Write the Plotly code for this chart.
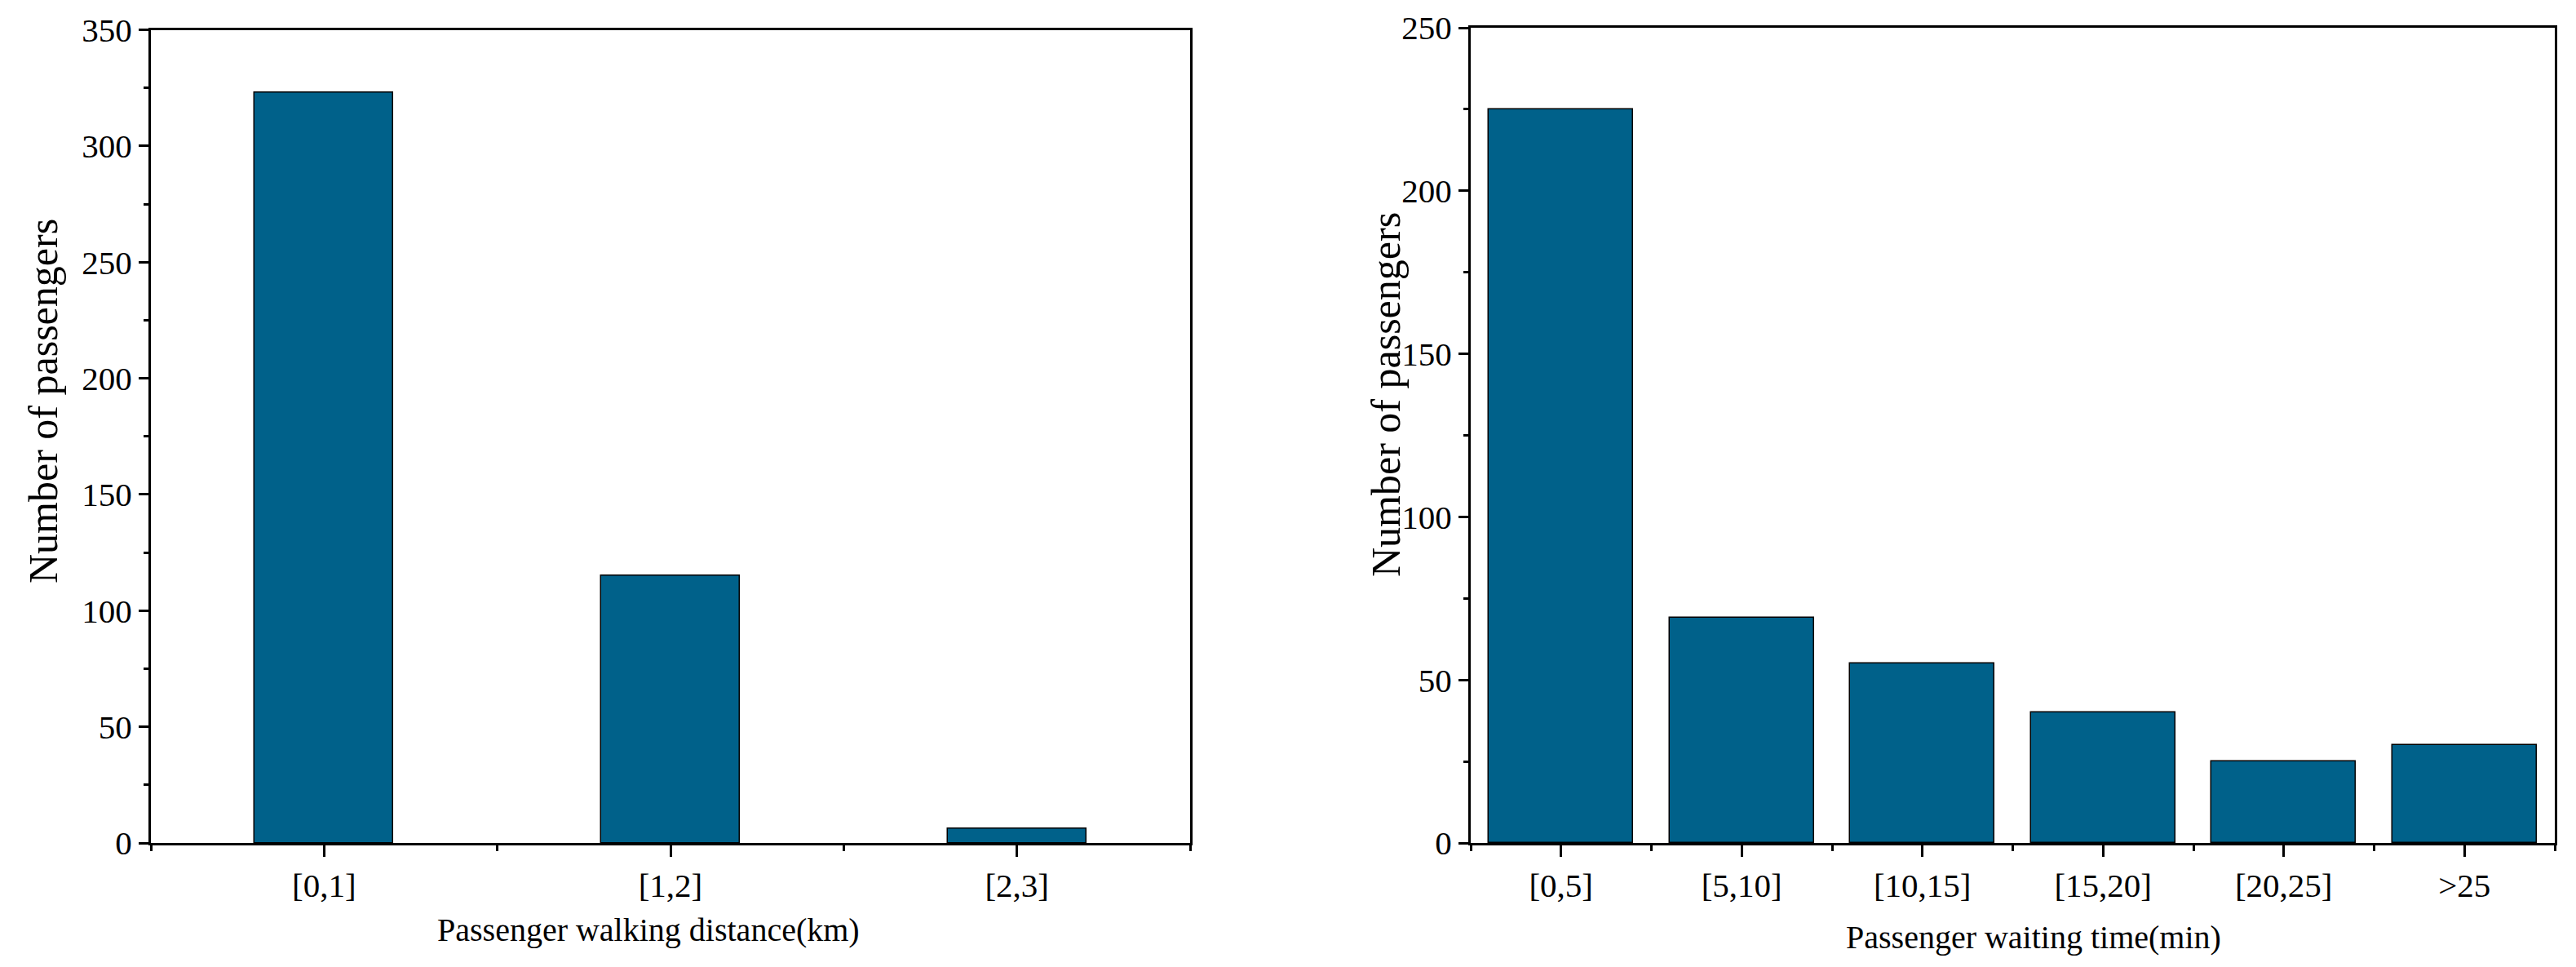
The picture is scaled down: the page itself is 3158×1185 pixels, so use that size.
import plotly.graph_objects as go

# Data
walk_categories = ["[0,1]", "[1,2]", "[2,3]"]
walk_values = [323, 115, 6]
wait_categories = ["[0,5]", "[5,10]", "[10,15]", "[15,20]", "[20,25]", ">25"]
wait_values = [225, 69, 55, 40, 25, 30]

BAR_COLOR = "#00618A"
FONT = "Liberation Serif"
W, H = 3158, 1185
TICK_SIZE = 41
XTITLE_SIZE = 40
YTITLE_SIZE = 50

walk_x = list(range(len(walk_categories)))
wait_x = list(range(len(wait_categories)))

fig = go.Figure()
fig.add_trace(go.Bar(x=walk_x, y=walk_values, width=0.4, xaxis="x", yaxis="y",
                     marker=dict(color=BAR_COLOR, line=dict(color="black", width=1.5)),
                     showlegend=False))
fig.add_trace(go.Bar(x=wait_x, y=wait_values, width=0.8, xaxis="x2", yaxis="y2",
                     marker=dict(color=BAR_COLOR, line=dict(color="black", width=1.5)),
                     showlegend=False))

def yd(top_px, bot_px):
    return [1 - bot_px / H, 1 - top_px / H]

common_axis = dict(showline=True, linecolor="black", linewidth=3, mirror=True,
                   showgrid=False, zeroline=False, ticks="outside",
                   tickcolor="black", tickwidth=3, automargin=False,
                   tickfont=dict(family=FONT, size=TICK_SIZE, color="black"))

fig.update_layout(
    width=W, height=H,
    margin=dict(l=0, r=0, t=0, b=0),
    paper_bgcolor="white", plot_bgcolor="white",
    font=dict(family=FONT, size=TICK_SIZE, color="black"),
    bargap=0,
    xaxis=dict(domain=[185 / W, 1459 / W], anchor="y",
               range=[-0.5, len(walk_categories) - 0.5],
               tickmode="array", tickvals=walk_x, ticktext=walk_categories,
               ticklen=14,
               minor=dict(ticks="outside", tick0=0.5, dtick=1, ticklen=7,
                          tickwidth=3, tickcolor="black", showgrid=False),
               **common_axis),
    yaxis=dict(domain=yd(36.5, 1033), anchor="x",
               range=[0, 350], tickmode="linear", tick0=0, dtick=50, ticklen=12,
               minor=dict(ticks="outside", tick0=0, dtick=25, ticklen=6,
                          tickwidth=3, tickcolor="black", showgrid=False),
               **common_axis),
    xaxis2=dict(domain=[1803 / W, 3132 / W], anchor="y2",
                range=[-0.5, len(wait_categories) - 0.5],
                tickmode="array", tickvals=wait_x, ticktext=wait_categories,
                ticklen=14,
                minor=dict(ticks="outside", tick0=0.5, dtick=1, ticklen=7,
                           tickwidth=3, tickcolor="black", showgrid=False),
                **common_axis),
    yaxis2=dict(domain=yd(34, 1033), anchor="x2",
                range=[0, 250], tickmode="linear", tick0=0, dtick=50, ticklen=12,
                minor=dict(ticks="outside", tick0=0, dtick=25, ticklen=6,
                           tickwidth=3, tickcolor="black", showgrid=False),
                **common_axis),
)

titles = [
    ("Passenger walking distance(km)", 795, 1139, 0, XTITLE_SIZE),
    ("Passenger waiting time(min)", 2493, 1148, 0, XTITLE_SIZE),
    ("Number of passengers", 53, 492, -90, YTITLE_SIZE),
    ("Number of passengers", 1699, 484, -90, YTITLE_SIZE),
]
for text, px, py, ang, size in titles:
    fig.add_annotation(text=text, xref="paper", yref="paper",
                       x=px / W, y=1 - py / H, xanchor="center", yanchor="middle",
                       textangle=ang, showarrow=False,
                       font=dict(family=FONT, size=size, color="black"))

fig.write_html("out.html",
               config={"displayModeBar": False},
               post_script="document.body.style.margin='0';document.body.style.overflow='hidden';")
